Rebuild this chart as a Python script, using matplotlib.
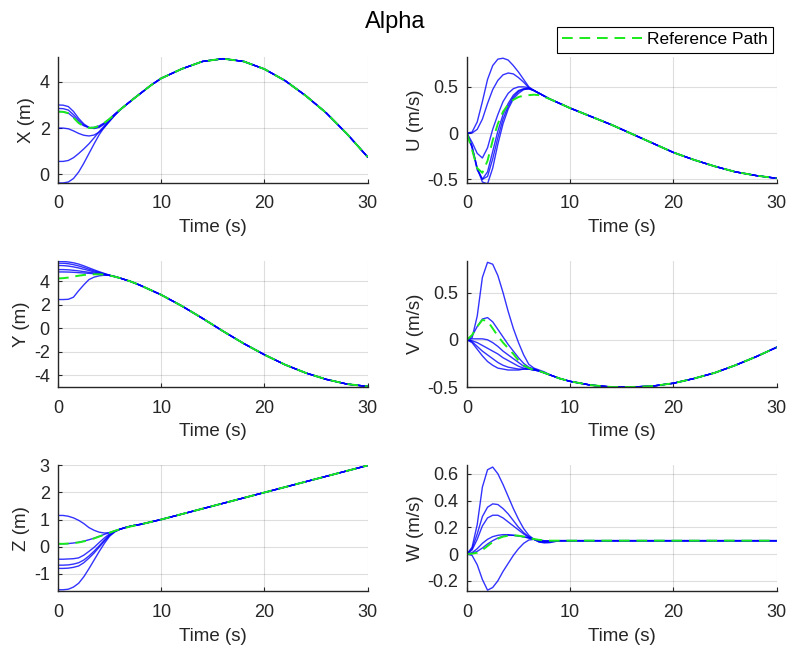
import numpy as np
import matplotlib
matplotlib.use('Agg')
import matplotlib.pyplot as plt
from matplotlib.ticker import FuncFormatter

# ==================================================
#   Data
t_early = [0, 0.5, 1, 1.5, 2, 2.5, 3, 3.5, 4, 4.5, 5, 5.5, 6, 6.5, 7, 7.5, 8]
t_late = [9, 10, 12, 14, 16, 18, 20, 22, 24, 26, 28, 30]

# reference path
ref_x = [2.71, 2.70, 2.64, 2.45, 2.22, 2.08, 2.01, 2.02, 2.10, 2.23, 2.40, 2.60, 2.79, 2.97, 3.15, 3.33, 3.50,
         3.85, 4.15, 4.56, 4.88, 5.00, 4.88, 4.55, 4.05, 3.40, 2.65, 1.75, 0.75]
ref_u = [0, -0.18, -0.38, -0.43, -0.30, -0.08, 0.10, 0.23, 0.31, 0.36, 0.39, 0.405, 0.41, 0.415, 0.41, 0.39, 0.37,
         0.32, 0.27, 0.18, 0.09, -0.01, -0.11, -0.21, -0.29, -0.36, -0.42, -0.46, -0.49]
ref_y = [4.25, 4.27, 4.32, 4.40, 4.48, 4.54, 4.58, 4.60, 4.60, 4.57, 4.50, 4.40, 4.28, 4.14, 4.00, 3.83, 3.65,
         3.25, 2.85, 1.90, 0.85, -0.25, -1.30, -2.25, -3.10, -3.80, -4.35, -4.75, -4.95]
ref_v = [0, 0.05, 0.14, 0.21, 0.20, 0.12, 0.04, -0.03, -0.09, -0.15, -0.22, -0.27, -0.30, -0.32, -0.33, -0.35, -0.37,
         -0.41, -0.44, -0.48, -0.50, -0.50, -0.49, -0.46, -0.41, -0.35, -0.27, -0.18, -0.08]
ref_z = [0.10, 0.10, 0.11, 0.13, 0.15, 0.19, 0.24, 0.30, 0.37, 0.44, 0.51, 0.58, 0.64, 0.69, 0.74, 0.78, 0.82,
         0.91, 1.00, 1.20, 1.40, 1.60, 1.80, 2.00, 2.20, 2.40, 2.60, 2.80, 3.00]
ref_w = [0, 0.003, 0.01, 0.03, 0.06, 0.09, 0.115, 0.13, 0.137, 0.14, 0.137, 0.13, 0.12, 0.112, 0.106, 0.102, 0.10,
         0.10, 0.10, 0.10, 0.10, 0.10, 0.10, 0.10, 0.10, 0.10, 0.10, 0.10, 0.10]

# simulated runs, transient part (0..8 s); afterwards they follow the reference
x_runs = [
    [3.00, 2.99, 2.93, 2.72, 2.42, 2.18, 2.03, 1.98, 2.03, 2.18, 2.38, 2.59, 2.79, 2.97, 3.15, 3.33, 3.50],
    [2.85, 2.84, 2.78, 2.58, 2.33, 2.13, 2.02, 2.00, 2.06, 2.20, 2.39, 2.60, 2.79, 2.97, 3.15, 3.33, 3.50],
    [2.00, 2.00, 1.97, 1.88, 1.77, 1.69, 1.66, 1.70, 1.83, 2.03, 2.30, 2.56, 2.79, 2.97, 3.15, 3.33, 3.50],
    [0.56, 0.56, 0.60, 0.72, 0.90, 1.10, 1.32, 1.58, 1.85, 2.10, 2.33, 2.57, 2.79, 2.97, 3.15, 3.33, 3.50],
    [-0.37, -0.37, -0.33, -0.18, 0.10, 0.48, 0.90, 1.32, 1.72, 2.05, 2.30, 2.55, 2.77, 2.97, 3.15, 3.33, 3.50],
    [2.72, 2.71, 2.65, 2.47, 2.24, 2.10, 2.02, 2.03, 2.10, 2.23, 2.40, 2.60, 2.79, 2.97, 3.15, 3.33, 3.50],
]
u_runs = [
    [0, 0.01, 0.12, 0.34, 0.58, 0.73, 0.80, 0.81, 0.79, 0.73, 0.66, 0.58, 0.50, 0.46, 0.43, 0.40, 0.37],
    [0, 0.00, 0.04, 0.15, 0.32, 0.47, 0.57, 0.63, 0.65, 0.64, 0.60, 0.55, 0.49, 0.46, 0.43, 0.40, 0.37],
    [0, -0.10, -0.22, -0.27, -0.16, 0.04, 0.20, 0.34, 0.43, 0.48, 0.50, 0.50, 0.49, 0.46, 0.43, 0.40, 0.37],
    [0, -0.15, -0.38, -0.50, -0.42, -0.20, 0.02, 0.20, 0.32, 0.41, 0.46, 0.48, 0.48, 0.46, 0.43, 0.40, 0.37],
    [0, -0.14, -0.38, -0.53, -0.55, -0.38, -0.12, 0.10, 0.26, 0.37, 0.43, 0.47, 0.48, 0.46, 0.43, 0.40, 0.37],
    [0, -0.16, -0.40, -0.50, -0.47, -0.28, -0.05, 0.15, 0.29, 0.39, 0.45, 0.475, 0.48, 0.46, 0.43, 0.40, 0.37],
]
y_runs = [
    [5.70, 5.69, 5.65, 5.58, 5.47, 5.32, 5.15, 4.98, 4.82, 4.67, 4.52, 4.40, 4.28, 4.14, 4.00, 3.83, 3.65],
    [5.55, 5.54, 5.50, 5.42, 5.31, 5.18, 5.03, 4.89, 4.76, 4.64, 4.52, 4.40, 4.28, 4.14, 4.00, 3.83, 3.65],
    [5.35, 5.34, 5.30, 5.23, 5.14, 5.03, 4.92, 4.80, 4.70, 4.60, 4.50, 4.40, 4.28, 4.14, 4.00, 3.83, 3.65],
    [5.00, 5.00, 4.98, 4.94, 4.89, 4.83, 4.77, 4.71, 4.65, 4.58, 4.50, 4.40, 4.28, 4.14, 4.00, 3.83, 3.65],
    [4.80, 4.80, 4.79, 4.77, 4.74, 4.71, 4.68, 4.65, 4.62, 4.57, 4.50, 4.40, 4.28, 4.14, 4.00, 3.83, 3.65],
    [2.45, 2.45, 2.47, 2.65, 3.20, 3.70, 4.15, 4.36, 4.47, 4.52, 4.51, 4.42, 4.29, 4.14, 4.00, 3.83, 3.65],
]
v_runs = [
    [0, 0.02, 0.25, 0.66, 0.82, 0.80, 0.68, 0.50, 0.30, 0.12, -0.03, -0.16, -0.26, -0.30, -0.32, -0.34, -0.37],
    [0, 0.04, 0.14, 0.22, 0.235, 0.19, 0.11, 0.03, -0.05, -0.12, -0.19, -0.25, -0.29, -0.31, -0.33, -0.35, -0.37],
    [0, 0.01, 0.01, 0.01, 0.00, -0.03, -0.07, -0.12, -0.16, -0.20, -0.24, -0.28, -0.30, -0.31, -0.33, -0.35, -0.37],
    [0, -0.01, -0.03, -0.06, -0.09, -0.12, -0.15, -0.19, -0.22, -0.25, -0.28, -0.30, -0.31, -0.32, -0.33, -0.35, -0.37],
    [0, -0.02, -0.07, -0.12, -0.16, -0.20, -0.24, -0.27, -0.29, -0.30, -0.31, -0.31, -0.31, -0.32, -0.33, -0.35, -0.37],
    [0, -0.03, -0.10, -0.17, -0.23, -0.27, -0.30, -0.31, -0.32, -0.32, -0.32, -0.31, -0.31, -0.32, -0.33, -0.35, -0.37],
]
z_runs = [
    [1.15, 1.15, 1.12, 1.06, 0.97, 0.85, 0.70, 0.60, 0.53, 0.50, 0.51, 0.57, 0.64, 0.70, 0.75, 0.79, 0.82],
    [-0.47, -0.47, -0.46, -0.45, -0.42, -0.32, -0.18, -0.03, 0.15, 0.32, 0.47, 0.57, 0.64, 0.70, 0.75, 0.79, 0.82],
    [-0.69, -0.69, -0.68, -0.65, -0.60, -0.50, -0.35, -0.17, 0.03, 0.24, 0.43, 0.56, 0.64, 0.70, 0.75, 0.79, 0.82],
    [-0.81, -0.81, -0.80, -0.77, -0.72, -0.60, -0.43, -0.24, -0.02, 0.20, 0.41, 0.55, 0.64, 0.70, 0.75, 0.79, 0.82],
    [-1.60, -1.60, -1.58, -1.50, -1.36, -1.12, -0.82, -0.50, -0.18, 0.12, 0.38, 0.54, 0.64, 0.70, 0.75, 0.79, 0.82],
    [0.10, 0.10, 0.11, 0.13, 0.16, 0.20, 0.25, 0.31, 0.38, 0.45, 0.52, 0.58, 0.64, 0.70, 0.75, 0.79, 0.82],
]
w_runs = [
    [0, 0.05, 0.22, 0.50, 0.63, 0.65, 0.60, 0.52, 0.43, 0.34, 0.26, 0.19, 0.14, 0.11, 0.09, 0.083, 0.085],
    [0, 0.04, 0.15, 0.28, 0.35, 0.375, 0.37, 0.34, 0.30, 0.25, 0.20, 0.16, 0.13, 0.11, 0.09, 0.088, 0.09],
    [0, 0.03, 0.11, 0.21, 0.27, 0.29, 0.29, 0.27, 0.24, 0.21, 0.18, 0.15, 0.125, 0.11, 0.095, 0.09, 0.092],
    [0, 0.01, 0.04, 0.08, 0.11, 0.13, 0.14, 0.145, 0.145, 0.14, 0.135, 0.128, 0.12, 0.11, 0.10, 0.095, 0.096],
    [0, -0.01, -0.08, -0.19, -0.27, -0.25, -0.20, -0.13, -0.07, -0.01, 0.04, 0.08, 0.105, 0.11, 0.105, 0.10, 0.098],
    [0, 0.005, 0.02, 0.045, 0.075, 0.10, 0.12, 0.133, 0.14, 0.14, 0.137, 0.13, 0.12, 0.11, 0.10, 0.096, 0.097],
]

panels = [
    ('X (m)', ref_x, x_runs, (-0.37, 5.06), [0, 2, 4]),
    ('U (m/s)', ref_u, u_runs, (-0.54, 0.82), [-0.5, 0, 0.5]),
    ('Y (m)', ref_y, y_runs, (-5.0, 5.7), [-4, -2, 0, 2, 4]),
    ('V (m/s)', ref_v, v_runs, (-0.5, 0.83), [-0.5, 0, 0.5]),
    ('Z (m)', ref_z, z_runs, (-1.65, 3.0), [-1, 0, 1, 2, 3]),
    ('W (m/s)', ref_w, w_runs, (-0.277, 0.662), [-0.2, 0, 0.2, 0.4, 0.6]),
]

# ==================================================
#   Plot
plt.rcParams['font.family'] = ['Liberation Sans', 'DejaVu Sans']
plt.rcParams['axes.unicode_minus'] = False
txt = (0.15, 0.15, 0.15)

t_all = t_early + t_late
fig = plt.figure(figsize=(7.9, 6.51), dpi=100)

lefts = [0.0734, 0.591]
bottoms = [0.719, 0.4055, 0.092]
for i, (lab, ref, runs, ylim, yt) in enumerate(panels):
    ax = fig.add_axes([lefts[i % 2], bottoms[i // 2], 0.392, 0.193])
    n_late = len(t_late)
    for r in runs:
        ax.plot(t_all, r + ref[-n_late:], color=(0, 0, 1), lw=1.0, alpha=0.8)
    ref_line, = ax.plot(t_all, ref, color=(0.1, 0.92, 0.1), lw=1.4, dashes=(5.5, 3.5))
    ax.set_xlim(0, 30)
    ax.set_ylim(*ylim)
    ax.set_xticks([0, 10, 20, 30])
    ax.set_yticks(yt)
    ax.yaxis.set_major_formatter(FuncFormatter(lambda v, p: '%g' % v))
    ax.grid(True, color=(0.15, 0.15, 0.15), alpha=0.15, lw=0.8)
    ax.set_axisbelow(True)
    for s in ['top', 'right']:
        ax.spines[s].set_visible(False)
    for s in ['left', 'bottom']:
        ax.spines[s].set_color(txt)
        ax.spines[s].set_linewidth(1.0)
    ax.tick_params(axis='y', direction='in', length=3, labelsize=13, colors=txt, pad=6)
    ax.tick_params(axis='x', direction='in', length=3, labelsize=13, colors=txt, pad=9)
    ax.set_xlabel('Time (s)', fontsize=13.5, color=txt, labelpad=5)
    ax.set_ylabel(lab, fontsize=13.5, color=txt, labelpad=3)

fig.suptitle('Alpha', fontsize=17, y=0.983, color='black')
leg = fig.legend([ref_line], ['Reference Path'], loc='upper right', bbox_to_anchor=(0.9785, 0.9585),
                 fontsize=12.5, frameon=True, fancybox=False, edgecolor='black', framealpha=1,
                 handlelength=4.6, handletextpad=0.3, borderpad=0.3, borderaxespad=0)
leg.get_frame().set_linewidth(0.8)

plt.savefig('out.png', dpi=100)
